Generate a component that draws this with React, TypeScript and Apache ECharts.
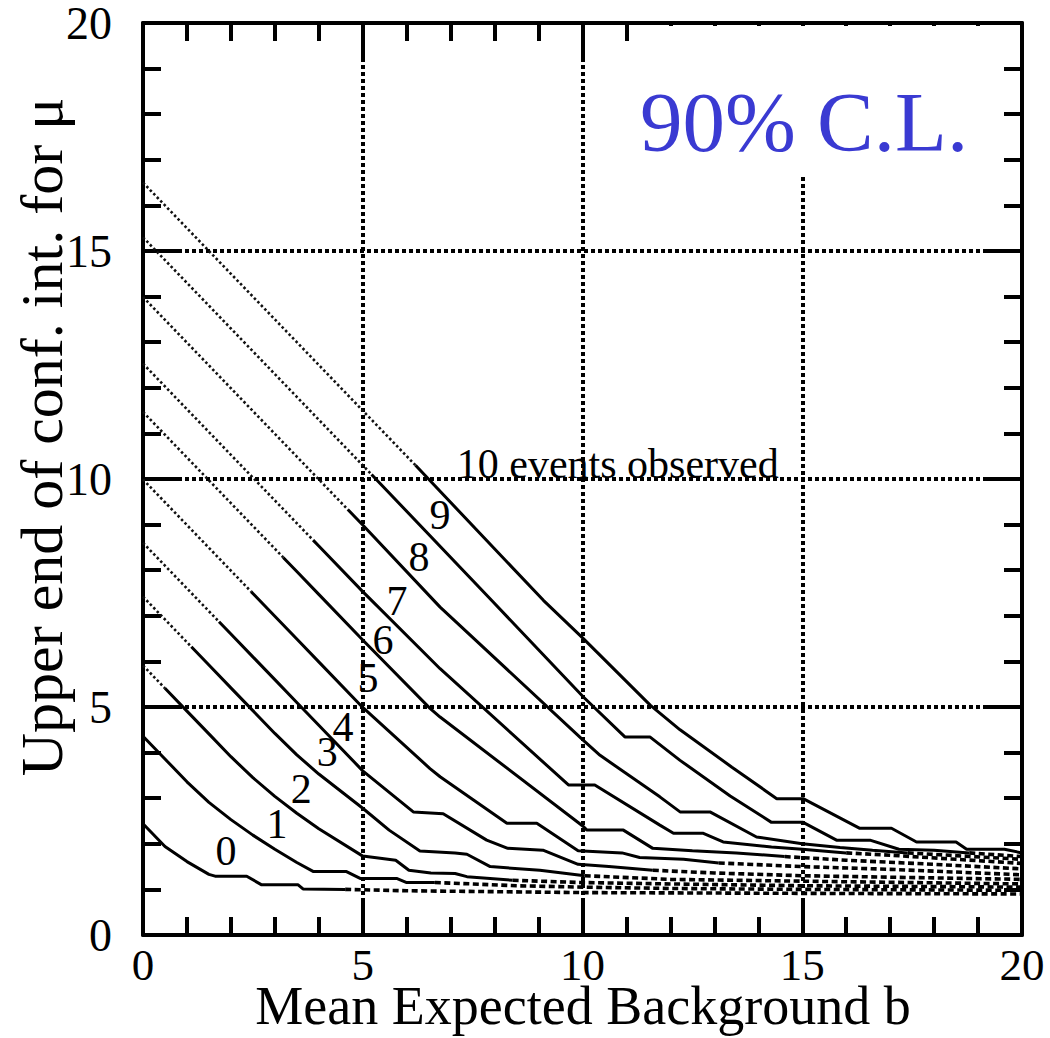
import React, { useEffect, useRef } from "react";
import * as echarts from "echarts";

// ---- data: upper end of 90% C.L. interval for mu vs mean background b ----
const observedCounts = [0, 1, 2, 3, 4, 5, 6, 7, 8, 9, 10];

const curveN0 = [[0,2.44],[0.5,1.94],[1.0,1.61],[1.5,1.33],[1.64,1.29],[2.36,1.29],[2.7,1.10],[3.53,1.10],[3.64,1.01],[4.6,1.00],[6.0,0.97],[8.0,0.95],[10.0,0.93],[13.0,0.92],[16.0,0.91],[20.0,0.90]];
const curveN1 = [[0,4.36],[0.5,3.86],[1.0,3.36],[1.5,2.91],[2.0,2.53],[2.5,2.19],[3.0,1.88],[3.5,1.59],[3.88,1.39],[4.63,1.39],[4.94,1.24],[5.77,1.24],[6.0,1.15],[6.64,1.15],[7.5,1.12],[8.5,1.08],[10.0,1.05],[12.0,1.02],[15.0,1.00],[20.0,0.98]];
const curveN2 = [[0,5.91],[0.5,5.41],[1.0,4.91],[1.5,4.41],[2.0,3.91],[2.5,3.45],[3.0,3.04],[3.5,2.67],[4.0,2.33],[5.0,1.73],[5.75,1.64],[6.05,1.42],[6.55,1.36],[7.1,1.35],[7.37,1.28],[8.41,1.20],[10.0,1.15],[12.0,1.12],[15.0,1.08],[20.0,1.05]];
const curveN3 = [[0,7.42],[0.5,6.92],[1.0,6.42],[1.1,6.32],[1.5,5.92],[2.0,5.42],[2.5,4.92],[3.0,4.42],[3.5,3.95],[4.0,3.53],[5.0,2.78],[5.6,2.30],[6.3,1.84],[7.1,1.80],[7.37,1.77],[7.9,1.50],[9.03,1.42],[10.05,1.30],[12.0,1.22],[15.0,1.18],[20.0,1.12]];
const curveN4 = [[0,8.60],[0.5,8.10],[1.0,7.60],[1.5,7.10],[1.73,6.87],[2.0,6.60],[2.5,6.10],[3.0,5.60],[3.5,5.10],[4.0,4.60],[5.0,3.60],[6.15,2.70],[6.83,2.66],[7.82,2.08],[8.3,1.90],[9.1,1.86],[9.9,1.55],[10.6,1.50],[11.6,1.42],[13.0,1.36],[15.0,1.30],[20.0,1.22]];
const curveN5 = [[0,9.99],[0.5,9.49],[1.0,8.99],[1.5,8.49],[2.0,7.99],[2.46,7.53],[2.5,7.49],[3.0,6.99],[3.5,6.49],[4.0,5.99],[5.0,4.99],[6.53,3.65],[6.76,3.47],[8.28,2.45],[8.96,2.45],[9.9,1.85],[10.9,1.80],[11.3,1.70],[12.3,1.66],[13.1,1.58],[15.0,1.50],[17.0,1.44],[20.0,1.32]];
const curveN6 = [[0,11.47],[0.5,10.97],[1.0,10.47],[1.5,9.97],[2.0,9.47],[2.5,8.97],[3.0,8.47],[3.19,8.28],[3.5,7.97],[4.0,7.47],[5.0,6.47],[6.53,4.97],[6.76,4.78],[10.02,2.38],[10.1,2.30],[10.93,2.30],[11.6,1.90],[12.5,1.85],[13.5,1.80],[14.6,1.72],[16.0,1.64],[18.0,1.55],[20.0,1.45]];
const curveN7 = [[0,12.53],[0.5,12.03],[1.0,11.53],[1.5,11.03],[2.0,10.53],[2.5,10.03],[3.0,9.53],[3.5,9.03],[3.87,8.66],[4.0,8.53],[5.0,7.53],[6.76,5.84],[9.68,3.29],[10.28,3.29],[11.76,2.41],[12.07,2.23],[12.75,2.23],[13.2,2.04],[14.3,1.93],[15.0,1.88],[16.0,1.80],[17.0,1.75],[18.5,1.66],[20.0,1.57]];
const curveN8 = [[0,13.99],[0.5,13.49],[1.0,12.99],[1.5,12.49],[2.0,11.99],[2.5,11.49],[3.0,10.99],[3.5,10.49],[4.0,9.99],[4.66,9.33],[5.0,8.99],[6.76,7.19],[10.02,4.27],[10.4,3.94],[11.76,3.03],[12.22,2.70],[12.9,2.70],[13.96,2.15],[15.0,2.00],[15.86,1.92],[16.6,1.86],[17.4,1.80],[18.5,1.74],[20.0,1.66]];
const curveN9 = [[0,15.30],[0.5,14.80],[1.0,14.30],[1.5,13.80],[2.0,13.30],[2.5,12.80],[3.0,12.30],[3.5,11.80],[4.0,11.30],[5.0,10.30],[5.2,10.10],[7.93,7.34],[10.02,5.22],[10.97,4.34],[11.54,4.34],[12.22,3.83],[13.36,3.05],[14.3,2.47],[15.02,2.47],[15.78,2.08],[16.54,2.08],[17.2,1.88],[18.0,1.86],[18.8,1.80],[20.0,1.72]];
const curveN10 = [[0,16.50],[0.5,16.00],[1.0,15.50],[1.5,15.00],[2.0,14.50],[2.5,14.00],[3.0,13.50],[3.5,13.00],[4.0,12.50],[5.0,11.50],[6.2,10.30],[9.11,7.34],[10.02,6.50],[11.54,5.04],[12.22,4.50],[13.4,3.68],[14.42,2.99],[15.02,2.99],[16.31,2.34],[17.03,2.34],[17.6,2.04],[18.5,2.04],[18.74,1.88],[19.6,1.88],[20.0,1.80]];

const curves = [curveN0, curveN1, curveN2, curveN3, curveN4, curveN5, curveN6, curveN7, curveN8, curveN9, curveN10];

// b where each curve turns from dotted to solid, and from solid to dashed
const dottedEnds = [0, 0, 0.5, 1.1, 1.73, 2.46, 3.19, 3.87, 4.66, 5.2, 6.2];
const dashedStarts = [4.6, 6.64, 8.41, 10.05, 11.6, 13.1, 14.6, 16.0, 17.4, 18.8, 99];

// curve labels, anchored in data coordinates [b, mu]
const curveLabelB = [1.89, 3.05, 3.60, 4.19, 4.55, 5.12, 5.46, 5.78, 6.28, 6.76];
const curveLabelMu = [1.84, 2.43, 3.20, 4.01, 4.56, 5.63, 6.46, 7.32, 8.30, 9.22];
const curveLabelText = ["0", "1", "2", "3", "4", "5", "6", "7", "8", "9"];
const topLabel = { text: "10 events observed", b: 7.14, mu: 10.32 };

const AXIS_MIN = 0;
const AXIS_MAX = 20;
const AXIS_STEP = 5;

const SERIF = "'Liberation Serif', 'Times New Roman', serif";

export default function App() {
  const ref = useRef<HTMLDivElement | null>(null);

  useEffect(() => {
    if (!ref.current) return;
    const chart = echarts.init(ref.current, undefined, { renderer: "svg" });

    const series: any[] = [];
    observedCounts.forEach((n, i) => {
      const pts = curves[i];
      const dEnd = dottedEnds[i];
      const sStart = dashedStarts[i];
      const dotted = pts.filter((p) => p[0] <= dEnd);
      const solid = pts.filter((p) => p[0] >= dEnd && p[0] <= sStart);
      const dashed = pts.filter((p) => p[0] >= sStart);
      const base = { type: "line", showSymbol: false, symbol: "none", silent: true, animation: false, z: 3 };
      if (dotted.length > 1)
        series.push({ ...base, name: `n${n} dotted`, data: dotted, lineStyle: { color: "#111", width: 2.6, type: [2.5, 2.5] } });
      if (solid.length > 1)
        series.push({ ...base, name: `n${n} solid`, data: solid, lineStyle: { color: "#000", width: 3 } });
      if (dashed.length > 1)
        series.push({ ...base, name: `n${n} dashed`, data: dashed, lineStyle: { color: "#000", width: 3.6, type: [6, 3.5] } });
    });

    const labelStyle = {
      show: true,
      position: "inside",
      formatter: (p: any) => p.name,
      fontFamily: SERIF,
      fontSize: 42,
      color: "#000",
      opacity: 1,
      textBorderWidth: 0,
    };

    series.push({
      type: "scatter",
      name: "labels",
      symbolSize: 0,
      silent: true,
      z: 6,
      itemStyle: { opacity: 1, color: "#000" },
      data: curveLabelText.map((t, i) => ({ value: [curveLabelB[i], curveLabelMu[i]], name: t })),
      label: labelStyle,
    });
    series.push({
      type: "scatter",
      name: "title label",
      symbolSize: 0,
      silent: true,
      z: 6,
      itemStyle: { opacity: 1, color: "#000" },
      data: [{ value: [topLabel.b, topLabel.mu], name: topLabel.text }],
      label: { ...labelStyle, align: "left", verticalAlign: "middle" },
    });

    const axisCommon = {
      type: "value",
      min: AXIS_MIN,
      max: AXIS_MAX,
      interval: AXIS_STEP,
      axisLine: { show: true, onZero: false, lineStyle: { color: "#000", width: 4 } },
      axisTick: { show: true, inside: true, length: 37, lineStyle: { color: "#000", width: 4 } },
      minorTick: { show: true, splitNumber: 5, length: 18, lineStyle: { color: "#000", width: 4 } },
    };
    const gridLine = { show: true, lineStyle: { color: "#000", width: 4, type: [4, 3] } };

    chart.setOption({
      animation: false,
      backgroundColor: "#fff",
      grid: { left: 143, right: 28, top: 22, bottom: 103, containLabel: false },
      xAxis: [
        {
          ...axisCommon,
          position: "bottom",
          splitLine: gridLine,
          axisLabel: {
            show: true,
            margin: 30,
            verticalAlign: "middle",
            lineHeight: 38,
            fontFamily: SERIF,
            fontSize: 45,
            color: "#000",
            showMinLabel: true,
            showMaxLabel: true,
          },
        },
        { ...axisCommon, position: "top", splitLine: { show: false }, axisLabel: { show: false } },
      ],
      yAxis: [
        {
          ...axisCommon,
          position: "left",
          splitLine: gridLine,
          axisLabel: {
            show: true,
            margin: 31,
            lineHeight: 38,
            fontFamily: SERIF,
            fontSize: 46,
            color: "#000",
            showMinLabel: true,
            showMaxLabel: true,
          },
        },
        { ...axisCommon, position: "right", splitLine: { show: false }, axisLabel: { show: false } },
      ],
      series,
      graphic: [
        { type: "rect", z: 50, shape: { x: 630, y: 26, width: 362, height: 150 }, style: { fill: "#fff" } },
        {
          type: "text",
          z: 51,
          x: 640,
          y: 122,
          style: { text: "90% C.L.", fill: "#3a3ad2", font: `85px ${SERIF}`, align: "left", verticalAlign: "middle" },
        },
        {
          type: "text",
          z: 51,
          x: 583,
          y: 1006,
          style: { text: "Mean Expected Background b", fill: "#000", font: `54px ${SERIF}`, lineHeight: 40, align: "center", verticalAlign: "middle" },
        },
        {
          type: "text",
          z: 51,
          x: 42,
          y: 437,
          rotation: Math.PI / 2,
          style: { text: "Upper end of conf. int. for \u03bc", fill: "#000", font: `60px ${SERIF}`, align: "center", verticalAlign: "middle" },
        },
      ],
    });

    return () => chart.dispose();
  }, []);

  return (
    <div
      ref={ref}
      style={{ position: "absolute", left: 0, top: 0, width: 1050, height: 1038, background: "#fff" }}
    />
  );
}
